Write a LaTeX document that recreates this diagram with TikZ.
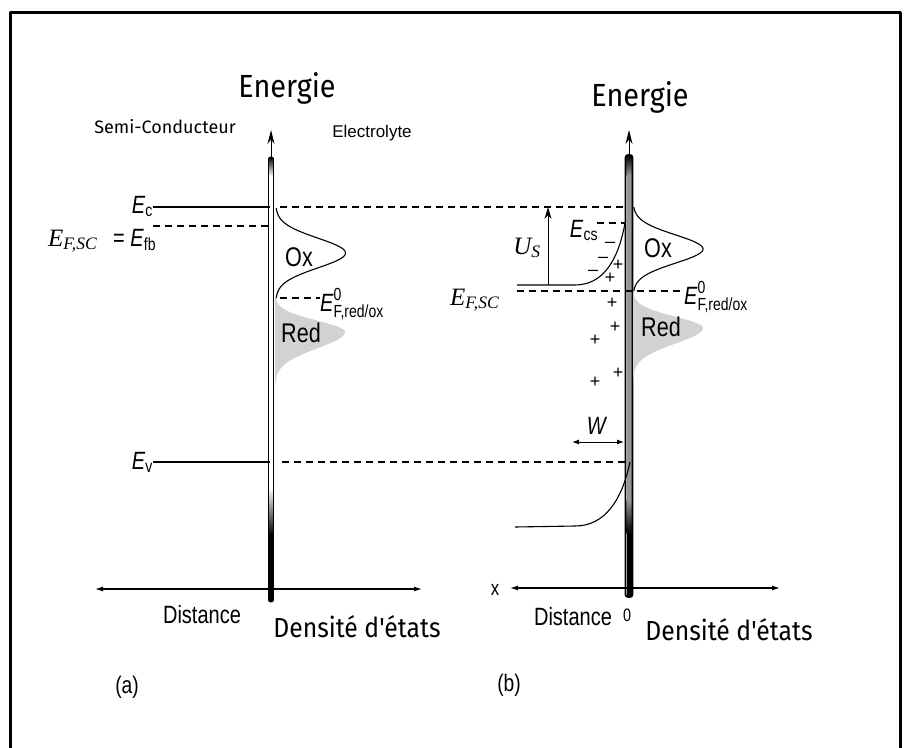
\documentclass[tikz,border=0pt]{standalone}
\usepackage{amsmath}
\usepackage{fontspec}
\usetikzlibrary{arrows.meta,calc,positioning}
\newfontfamily\energiefont[FakeStretch=0.9]{Fira Sans}
\newfontfamily\humanfont{Fira Sans}
\newfontfamily\narrowfont[FakeStretch=0.8]{Liberation Sans}
\newfontfamily\plainsans{Liberation Sans}
\newfontfamily\serifit{Liberation Serif}
\definecolor{redfill}{RGB}{210,210,210}
\definecolor{tubegray}{RGB}{150,150,150}
\tikzset{
 level/.style={line width=1.1pt},
 leveldash/.style={line width=1.1pt,dash pattern=on 7pt off 5pt},
 axisline/.style={line width=1.2pt,{Latex[length=8pt,width=5pt]}-{Latex[length=8pt,width=5pt]}},
 bigtext/.style={font=\energiefont\fontsize{32}{36}\selectfont,inner sep=0pt},
 midtext/.style={font=\energiefont\fontsize{27.5}{30}\selectfont,inner sep=0pt},
 narrowtext/.style={font=\narrowfont\fontsize{27}{30}\selectfont,inner sep=0pt},
 elabel/.style={font=\narrowfont\fontsize{25}{28}\selectfont,inner sep=0pt},
 seriflabel/.style={font=\serifit\itshape\fontsize{25}{28}\selectfont,inner sep=0pt},
 signmark/.style={font=\plainsans\fontsize{18}{20}\selectfont,inner sep=0pt},
}
\newcommand{\Eitl}[1]{\textit{E}\textsubscript{#1}}
\newcommand{\Efsc}{E\textsubscript{F,SC}}

\begin{document}
\begin{tikzpicture}[x=1pt,y=-1pt,line cap=butt,line join=round]
\useasboundingbox (0,0) rectangle (907,747);
\draw[line width=3pt] (10,12) rectangle (900,780);
% (a) bande plate
\node[bigtext] (nrjA) at (287,88) {Energie};
\node[font=\humanfont\fontsize{18}{20}\selectfont,inner sep=0pt] (semi) at (165,127) {Semi-Conducteur};
\node[font=\plainsans\fontsize{17}{19}\selectfont,inner sep=0pt] (elyte) at (372,133) {Electrolyte};
% tube de l'interface
\shade[top color=black,bottom color=white] (269.2,157) rectangle (272.8,176);
\shade[top color=white,bottom color=black] (269.2,488) rectangle (272.8,535);
\fill (269.2,535) rectangle (272.8,602);
\draw[line width=0.9pt,rounded corners=2pt] (268.5,157) rectangle (273.5,602);
\coordinate (topA) at (271,160);
\coordinate (tipA) at (271,130);
\draw[line width=1pt,-{Stealth[length=14pt,width=7pt]}] (topA) -- (tipA);
% niveaux
\coordinate (ecL) at (153,207); \coordinate (ecA) at (270,207);
\coordinate (fbL) at (153,226); \coordinate (fbA) at (270,226);
\coordinate (evL) at (153,462); \coordinate (evA) at (270,462);
\node[elabel,anchor=base east] (Ec) at (153,213) {\Eitl{c}};
\node[seriflabel,anchor=base west] (Efb) at (48,246) {\Efsc};
\node[elabel,anchor=base west] (fbeq) at (113,246) {= \Eitl{fb}};
\node[elabel,anchor=base east] (Ev) at (153,469) {\Eitl{v}};
\draw[level] (ecL) -- (ecA);
\draw[leveldash] (fbL) -- (fbA);
\draw[level] (evL) -- (evA);
% Ox et Red
\fill[redfill] (275,298)
 -- plot[domain=298:332,samples=30] ({275+70*exp(-((\x-332)/16)*((\x-332)/16))},\x)
 -- plot[domain=332:390,samples=40] ({275+70*exp(-((\x-332)/23)*((\x-332)/23))},\x)
 -- (275,390) -- cycle;
\draw[line width=1.1pt] plot[domain=208:298,samples=80,smooth]
 ({275.5+70*exp(-((\x-253)/21)*((\x-253)/21))},\x);
\node[narrowtext] (oxA) at (299,257) {Ox};
\node[narrowtext] (redA) at (301,333) {Red};
\coordinate (e0A) at (280,298);
\node[elabel,anchor=west] (E0A) at (320,304)
 {$\textit{E}^{\text{0}}_{\text{F,red/ox}}$};
\draw[leveldash] (e0A) -- (E0A.west |- e0A);
% axes (a)
\coordinate (xlA) at (95,589); \coordinate (xrA) at (422,589);
\draw[axisline] (xlA) -- (xrA);
\node[font=\narrowfont\fontsize{25}{28}\selectfont,inner sep=0pt] (distA) at (202,615) {Distance};
\node[midtext] (dosA) at (357,627) {Densité d'états};
\node[font=\narrowfont\fontsize{24}{26}\selectfont] (capA) at (127,687) {(a)};
% liaisons entre (a) et (b)
\coordinate (ecB) at (630,207);
\coordinate (evB) at (630,462);
\draw[leveldash] (280,207) -- (ecB);
\draw[leveldash] (282,462) -- (evB);
% (b) courbure de bandes
\node[bigtext] (nrjB) at (640,97) {Energie};
\shade[top color=black,bottom color=tubegray] (626.5,155) rectangle (631.5,175);
\fill[tubegray] (626.5,175) rectangle (631.5,500);
\shade[top color=tubegray,bottom color=black] (626.5,500) rectangle (631.5,533);
\fill (626.5,533) rectangle (631.5,597);
\draw[line width=1.7pt,rounded corners=2.5pt] (625.5,155) rectangle (632.5,597);
\coordinate (topB) at (629,160);
\coordinate (tipB) at (629,130);
\draw[line width=1pt,-{Stealth[length=14pt,width=7pt]}] (topB) -- (tipB);
% bandes courbées
\coordinate (cbL) at (517,285);
\coordinate (cbS) at (625,223);
\coordinate (vbL) at (515,527);
\draw[level] (cbL) -- (575,285) .. controls (602,285) and (618,262) .. (cbS);
\draw[level] (vbL) -- (575,526) .. controls (605,526) and (622,500) .. (evB);
\coordinate (fsL) at (517,291);
\coordinate (fsR) at (680,291);
\draw[leveldash] (fsL) -- (fsR);
\draw[leveldash] (597,223) -- (cbS);
\node[seriflabel,anchor=base west] (EfB) at (450,305) {\Efsc};
\node[elabel,anchor=base] (Ecs) at (584,237) {\Eitl{cs}};
\node[seriflabel] (Us) at (527,248) {U\textsubscript{S}};
\coordinate (usB) at (548,285);
\coordinate (usT) at (548,207);
\draw[line width=1pt,-{Stealth[length=12pt,width=7pt]}] (usB) -- (usT);
% charges d'espace
\foreach \px/\py in {610/245,603/260,593/273}
 \node[signmark] at (\px,\py) {\textendash};
\foreach \px/\py in {618/265,610/278,612/303,615/327,595/340,618/373,595/382}
 \node[signmark] at (\px,\py) {+};
% W
\node[elabel] (Wl) at (597,426) {\textit{W}};
\coordinate (wL) at (572,442); \coordinate (wR) at (624,442);
\draw[line width=1pt,{Latex[length=7pt,width=5pt]}-{Latex[length=7pt,width=5pt]}] (wL) -- (wR);
% Ox et Red (b)
\fill[redfill] (633,291)
 -- plot[domain=291:328,samples=30] ({633+70*exp(-((\x-328)/16)*((\x-328)/16))},\x)
 -- plot[domain=328:385,samples=40] ({633+70*exp(-((\x-328)/22)*((\x-328)/22))},\x)
 -- (633,385) -- cycle;
\draw[line width=1.1pt] plot[domain=207:291,samples=80,smooth]
 ({633+70*exp(-((\x-249)/20)*((\x-249)/20))},\x);
\node[narrowtext] (oxB) at (658,248) {Ox};
\node[narrowtext] (redB) at (661,327) {Red};
\node[elabel,anchor=west] (E0B) at (684,297)
 {$\textit{E}^{\text{0}}_{\text{F,red/ox}}$};
% axes (b)
\coordinate (xlB) at (510,588); \coordinate (xrB) at (780,588);
\draw[axisline] (xlB) -- (xrB);
\node[font=\narrowfont\fontsize{21}{22}\selectfont,inner sep=0pt] (xB) at (495,590) {x};
\node[font=\narrowfont\fontsize{25}{28}\selectfont,inner sep=0pt] (distB) at (573,617) {Distance};
\node[font=\narrowfont\fontsize{18}{19}\selectfont,inner sep=0pt] (zero) at (627,615) {0};
\node[midtext] (dosB) at (729,630) {Densité d'états};
\node[font=\narrowfont\fontsize{24}{26}\selectfont] (capB) at (509,685) {(b)};
\end{tikzpicture}
\end{document}
